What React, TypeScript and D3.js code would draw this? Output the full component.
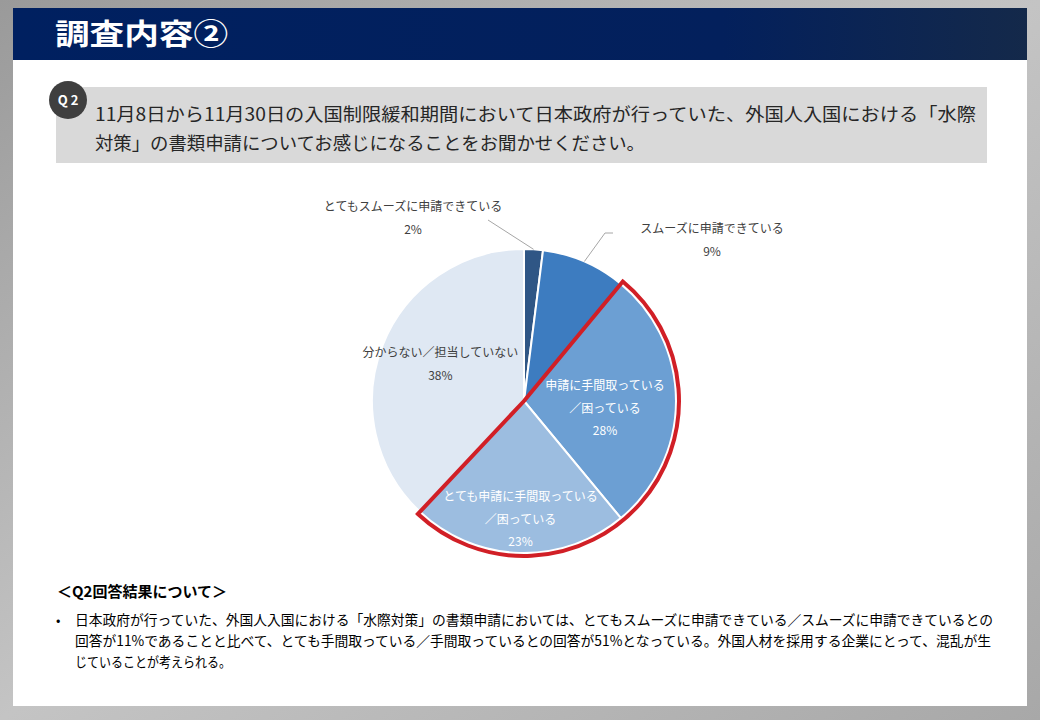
import React from 'react';
import * as d3 from 'd3';

const categories = [
  'とてもスムーズに申請できている',
  'スムーズに申請できている',
  '申請に手間取っている／困っている',
  'とても申請に手間取っている／困っている',
  '分からない／担当していない',
];
const values = [2, 9, 28, 23, 38];
const sliceColors = ['#2f5685', '#3d7cc0', '#6c9fd3', '#9cbde0', '#dfe8f3'];
const labelLines = [
  ['とてもスムーズに申請できている'],
  ['スムーズに申請できている'],
  ['申請に手間取っている', '／困っている'],
  ['とても申請に手間取っている', '／困っている'],
  ['分からない／担当していない'],
];
const highlighted = [2, 3];

const title = '調査内容②';
const question = [
  '11月8日から11月30日の入国制限緩和期間において日本政府が行っていた、外国人入国における「水際',
  '対策」の書類申請についてお感じになることをお聞かせください。',
];
const summaryTitle = '＜Q2回答結果について＞';
const summary = [
  '日本政府が行っていた、外国人入国における「水際対策」の書類申請においては、とてもスムーズに申請できている／スムーズに申請できているとの',
  '回答が11%であることと比べて、とても手間取っている／手間取っているとの回答が51%となっている。外国人材を採用する企業にとって、混乱が生',
  'じていることが考えられる。',
];

const W = 1040;
const H = 720;
const font = '"Noto Sans CJK JP", "Noto Sans", sans-serif';

export default function App() {
  const cx = 524;
  const cy = 401;
  const r = 152;

  const pie = d3.pie<number>().sort(null).value(d => d);
  const arcs = pie(values);
  const arc = d3.arc<d3.PieArcDatum<number>>().innerRadius(0).outerRadius(r);

  const mid = (a: d3.PieArcDatum<number>) => (a.startAngle + a.endAngle) / 2;
  const polar = (ang: number, rad: number): [number, number] => [Math.sin(ang) * rad, -Math.cos(ang) * rad];

  const hlStart = arcs[highlighted[0]].startAngle;
  const hlEnd = arcs[highlighted[highlighted.length - 1]].endAngle;
  const hlPath = d3.arc()({ innerRadius: 0, outerRadius: r + 3, startAngle: hlStart, endAngle: hlEnd }) as string;

  // label placement: the larger slices use a radius along the slice's mid angle,
  // the two small top slices get callouts placed beside the pie
  const labelRadius = [0, 0, 81, 111, 90];
  const calloutPos: [number, number][] = [[-111, -193], [188, -171]];

  return (
    <svg width={W} height={H} style={{ position: 'absolute', left: 0, top: 0 }} fontFamily={font}>
      <defs>
        <linearGradient id="bg" x1="0" y1="0" x2="1" y2="1">
          <stop offset="0" stopColor="#9a9a9a" />
          <stop offset="0.5" stopColor="#c4c4c4" />
          <stop offset="1" stopColor="#a8a8a8" />
        </linearGradient>
        <linearGradient id="hd" x1="0" y1="0" x2="1" y2="0">
          <stop offset="0" stopColor="#002060" />
          <stop offset="0.7" stopColor="#03205c" />
          <stop offset="1" stopColor="#14294a" />
        </linearGradient>
      </defs>
      <rect width={W} height={H} fill="url(#bg)" />
      <rect x={13} y={8} width={1014} height={698} fill="#ffffff" />
      <rect x={13} y={8} width={1014} height={52} fill="url(#hd)" />
      <text x={55} y={45} fill="#ffffff" fontSize={29} fontWeight="bold"
        textLength={173} lengthAdjust="spacingAndGlyphs">{title}</text>

      <rect x={56} y={87} width={931} height={76} fill="#d9d9d9" />
      <circle cx={68} cy={100} r={19} fill="#3f3f3f" />
      <text x={68} y={105} fill="#ffffff" fontSize={13} fontWeight="bold" textAnchor="middle">Q 2</text>
      {question.map((q, i) => (
        <text key={i} x={95} y={121 + i * 29} fill="#262626" fontSize={18}
          textLength={i === 0 ? 881 : 550} lengthAdjust="spacingAndGlyphs">{q}</text>
      ))}

      <g transform={`translate(${cx},${cy})`}>
        {arcs.map((a, i) => (
          <path key={i} d={arc(a) as string} fill={sliceColors[i]} stroke="#ffffff" strokeWidth={2} />
        ))}
        <path d={hlPath} fill="none" stroke="#d11f26" strokeWidth={4} strokeLinejoin="miter" />

        {/* leader lines */}
        {(() => {
          const p0 = polar(mid(arcs[0]), r);
          const p1 = polar(mid(arcs[1]), r);
          return (
            <g stroke="#a6a6a6" strokeWidth={1} fill="none">
              <polyline points={`${p0[0]},${p0[1]} ${-36},${-181}`} />
              <polyline points={`${p1[0]},${p1[1]} ${81},${-168} ${89},${-168}`} />
            </g>
          );
        })()}

        {arcs.map((a, i) => {
          let lx: number;
          let ly: number;
          if (i < 2) {
            [lx, ly] = calloutPos[i];
          } else {
            const [px, py] = polar(mid(a), labelRadius[i]);
            lx = px;
            ly = py - 14;
          }
          const inside = i === 2 || i === 3;
          const lines = [...labelLines[i], `${values[i]}%`];
          return (
            <g key={i}>
              {lines.map((t, j) => (
                <text key={j} x={lx} y={ly + j * 22.5} fontSize={12} textAnchor="middle"
                  dominantBaseline="middle" fill={inside ? '#ffffff' : '#404040'}>{t}</text>
              ))}
            </g>
          );
        })}
      </g>

      <text x={57} y={597} fontSize={15} fontWeight="bold" fill="#000000">{summaryTitle}</text>
      <text x={56} y={625} fontSize={13} fill="#000000">•</text>
      {summary.map((s, i) => (
        <text key={i} x={75} y={625 + i * 21} fontSize={14} fill="#000000"
          textLength={i === 0 ? 918 : i === 1 ? 916 : 156} lengthAdjust="spacingAndGlyphs">{s}</text>
      ))}
    </svg>
  );
}
